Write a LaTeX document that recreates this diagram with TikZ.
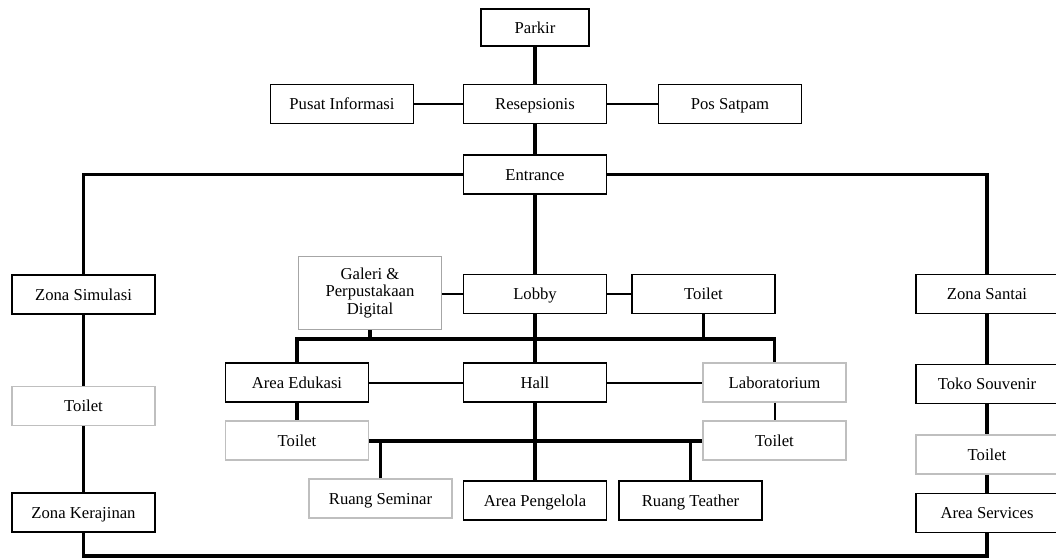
\documentclass[tikz,border=0pt]{standalone}
\usepackage{fontspec}
\setmainfont{Liberation Serif}
\begin{document}
\begin{tikzpicture}[x=0.75pt,y=-0.75pt,
  ruang/.style={draw,line width=1.1pt,minimum width=107.5pt,minimum height=29pt,inner sep=1pt,text height=8.3pt,text depth=0pt,font=\fontsize{12.5}{13}\selectfont},
  ruangtipis/.style={ruang,draw=black!25},
  tebal/.style={line width=2.3pt},
  tipis/.style={line width=1.5pt}]
\useasboundingbox (0,0) rectangle (1056,558);
\node[ruang,minimum width=81pt,minimum height=28pt] (parkir) at (535,27.5) {Parkir};
\node[ruang] (pusat) at (342,104) {Pusat Informasi};
\node[ruang] (resep) at (535,104) {Resepsionis};
\node[ruang] (satpam) at (730,104) {Pos Satpam};
\node[ruang] (entrance) at (535,174.5) {Entrance};
\node[ruang] (simulasi) at (83.5,294.5) {Zona Simulasi};
\node[ruangtipis,draw=black!35,minimum height=55pt,text height=,text depth=,align=center] (galeri) at (370,293) {Galeri \&\\Perpustakaan\\Digital};
\node[ruang] (lobby) at (535,294) {Lobby};
\node[ruang] (toilet1) at (703.5,294) {Toilet};
\node[ruang,minimum width=106.5pt] (santai) at (987,294) {Zona Santai};
\node[ruang] (edukasi) at (297,382.5) {Area Edukasi};
\node[ruang] (hall) at (535,382.5) {Hall};
\node[ruangtipis] (lab) at (774.5,382.5) {Laboratorium};
\node[ruangtipis] (toilet2) at (297,440.5) {Toilet};
\node[ruangtipis] (toilet3) at (774.5,440.5) {Toilet};
\node[ruangtipis] (seminar) at (380.5,498.5) {Ruang Seminar};
\node[ruang] (pengelola) at (535,500.5) {Area Pengelola};
\node[ruang] (teather) at (690.5,500.5) {Ruang Teather};
\node[ruangtipis] (toilet4) at (83.5,406) {Toilet};
\node[ruang] (kerajinan) at (83.5,512.5) {Zona Kerajinan};
\node[ruang,minimum width=106.5pt] (souvenir) at (987,384) {Toko Souvenir};
\node[ruangtipis,minimum width=106.5pt] (toilet5) at (987,454.5) {Toilet};
\node[ruang,minimum width=106.5pt] (services) at (987,513) {Area Services};
\coordinate (bus1) at (535,339);
\coordinate (bus2) at (535,441);
\coordinate (bawah) at (535,556);
\draw[tebal] (parkir) -- (resep);
\draw[tipis] (pusat) -- (resep);
\draw[tipis] (resep) -- (satpam);
\draw[tebal] (resep) -- (entrance);
\draw[tebal] (entrance.west) -| (simulasi.north);
\draw[tebal] (entrance.east) -| (santai.north);
\draw[tebal] (entrance) -- (lobby);
\draw[tipis] (lobby.west) -- (lobby.west -| galeri.east);
\draw[tipis] (lobby) -- (toilet1);
\draw[tebal] (lobby) -- (hall);
\draw[tebal] (edukasi.north) |- (bus1) -| (lab.north);
\draw[tebal] (galeri.south) -- (galeri.south |- bus1);
\draw[tebal] (toilet1.south) -- (toilet1.south |- bus1);
\draw[tipis] (edukasi) -- (hall);
\draw[tipis] (hall) -- (lab);
\draw[tebal] (edukasi) -- (toilet2);
\draw[tipis] (lab) -- (toilet3);
\draw[tebal] (hall) -- (pengelola);
\draw[tebal] (toilet2.east |- bus2) -- (toilet3.west |- bus2);
\draw[tebal] (seminar.north) -- (seminar.north |- bus2);
\draw[tebal] (teather.north) -- (teather.north |- bus2);
\draw[tebal] (simulasi) -- (toilet4);
\draw[tebal] (toilet4) -- (kerajinan);
\draw[tebal] (santai) -- (souvenir);
\draw[tebal] (souvenir) -- (toilet5);
\draw[tebal] (toilet5) -- (services);
\draw[tebal] (kerajinan.south) |- (bawah) -| (services.south);
\end{tikzpicture}
\end{document}
